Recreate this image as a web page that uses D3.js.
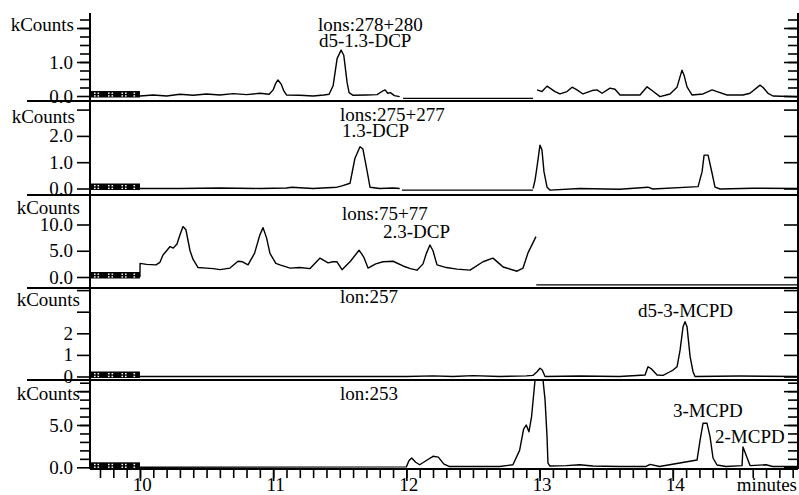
<!DOCTYPE html>
<html>
<head>
<meta charset="utf-8">
<script src="https://d3js.org/d3.v7.min.js"></script>
<style>
body { margin: 0; background: #fff; }
text { font-family: "Liberation Serif", "Times New Roman", serif; }
</style>
</head>
<body>
<svg></svg>
<script>

var width = 799,
    height = 495;

// retention time window (minutes) and x ticks
var timeDomain = [9.625, 14.94];
var xMajor = [10, 11, 12, 13, 14];
var xMinor = d3.range(9.7, 14.95, 0.1);

// ---- traces, [minutes, kCounts]; each panel split into its scan segments ----
var ions278 = [
  [[10.0,0.0],[10.1,0.03],[10.2,0.0],[10.3,0.05],[10.4,0.02],[10.5,0.06],[10.6,0.03],[10.7,0.07],
   [10.8,0.04],[10.9,0.08],[10.97,0.05],[11.0,0.18],[11.02,0.38],[11.036,0.47],[11.06,0.35],
   [11.08,0.15],[11.1,0.03],[11.2,0.02],[11.3,0.0],[11.38,0.03],[11.42,0.05],[11.45,0.3],
   [11.48,1.1],[11.51,1.35],[11.53,1.2],[11.555,0.4],[11.57,0.1],[11.6,0.02],[11.7,0.03],
   [11.78,0.04],[11.82,0.14],[11.84,0.18],[11.86,0.08],[11.88,0.1],[11.91,0.01],[11.95,-0.02]],
  [[11.975,-0.07],[12.951,-0.07]],
  [[12.981,0.18],[13.018,0.13],[13.056,0.29],[13.078,0.23],[13.116,0.13],[13.153,0.06],[13.206,0.13],
   [13.244,0.26],[13.281,0.18],[13.326,0.06],[13.394,0.16],[13.431,0.18],[13.469,0.08],[13.529,0.23],
   [13.566,0.2],[13.604,0.03],[13.754,0.03],[13.807,0.27],[13.844,0.16],[13.904,-0.02],[13.979,0.06],
   [14.032,0.26],[14.069,0.76],[14.084,0.62],[14.107,0.27],[14.144,0.03],[14.227,0.06],[14.295,0.18],
   [14.332,0.13],[14.407,0.03],[14.527,0.03],[14.58,0.08],[14.655,0.32],[14.678,0.25],[14.715,0.08],
   [14.752,0.0],[14.933,-0.02]]
];

var ions275 = [
  [[10.0,0.0],[10.3,0.0],[10.6,0.02],[10.9,0.0],[11.1,0.02],[11.141,0.05],[11.2,0.03],[11.3,0.0],
   [11.479,0.05],[11.517,0.1],[11.577,0.2],[11.614,1.15],[11.652,1.59],[11.674,1.5],[11.704,0.7],
   [11.727,0.05],[11.8,0.0],[11.9,0.02],[11.95,0.0]],
  [[11.967,-0.06],[12.951,-0.06]],
  [[12.951,0.0],[12.966,0.32],[12.981,0.83],[13.003,1.65],[13.018,1.46],[13.033,0.64],[13.056,0.05],
   [13.078,-0.06],[13.3,0.0],[13.6,-0.03],[13.814,0.05],[13.85,-0.02],[14.19,0.07],[14.22,0.64],
   [14.235,1.27],[14.265,1.27],[14.295,0.58],[14.317,0.05],[14.355,-0.02],[14.6,0.01],[14.94,0.0]]
];

var ions75 = [
  [[10.0,0.0],[10.001,2.6],[10.05,2.4],[10.12,2.3],[10.15,2.8],[10.173,4.2],[10.2,5.0],[10.226,5.8],
   [10.25,5.5],[10.278,6.3],[10.3,8.0],[10.323,9.6],[10.345,9.0],[10.376,5.0],[10.398,3.4],
   [10.436,1.8],[10.5,1.7],[10.55,1.6],[10.6,1.4],[10.676,1.7],[10.736,3.0],[10.77,2.9],[10.811,2.3],
   [10.86,4.5],[10.9,8.0],[10.924,9.4],[10.95,7.5],[10.976,4.5],[11.02,2.6],[11.051,2.3],[11.127,1.7],
   [11.2,1.8],[11.277,1.6],[11.352,3.6],[11.412,2.7],[11.45,2.9],[11.479,2.9],[11.517,1.4],
   [11.58,3.0],[11.645,5.1],[11.68,3.8],[11.712,1.7],[11.77,2.5],[11.825,2.9],[11.9,3.0],
   [11.975,2.1],[12.03,1.6],[12.08,1.3],[12.125,2.5],[12.15,4.5],[12.177,6.1],[12.2,5.0],[12.23,2.3],
   [12.3,1.8],[12.38,1.5],[12.478,1.3],[12.575,2.9],[12.65,3.6],[12.7,2.5],[12.726,1.9],[12.831,1.1],
   [12.876,1.7],[12.913,4.6],[12.973,7.7]],
  [[12.975,-1.5],[14.94,-1.5]]
];

var ion257 = [
  [[10.0,0.0],[12.0,0.0],[12.2,0.03],[12.35,0.0],[12.5,0.04],[12.7,0.0],[12.9,0.03],[12.95,0.05],
   [12.981,0.22],[13.003,0.38],[13.02,0.3],[13.041,0.0],[13.3,0.02],[13.6,0.0],[13.792,0.07],
   [13.814,0.45],[13.84,0.35],[13.882,0.07],[13.927,0.05],[13.979,0.22],[14.002,0.3],[14.032,0.45],
   [14.055,1.23],[14.077,2.3],[14.092,2.54],[14.107,2.3],[14.13,0.92],[14.152,0.22],[14.167,0.0],
   [14.5,0.02],[14.94,0.0]]
];

var ion253 = [
  [[10.0,0.0],[12.0,0.05],[12.02,0.8],[12.04,1.1],[12.07,0.6],[12.1,0.3],[12.15,0.8],[12.2,1.3],
   [12.24,1.2],[12.28,0.4],[12.32,0.1],[12.5,0.1],[12.7,0.1],[12.8,0.3],[12.85,2.0],[12.88,4.5],
   [12.9,5.0],[12.92,4.2],[12.94,6.0],[12.97,11.0],[13.01,12.0],[13.018,11.5],[13.041,8.0],
   [13.056,3.6],[13.063,0.5],[13.078,0.15],[13.2,0.2],[13.3,0.3],[13.4,0.15],[13.6,0.1],[13.8,0.1],
   [13.83,0.35],[13.9,0.1],[14.182,0.86],[14.205,3.2],[14.227,5.2],[14.257,5.2],[14.28,3.6],
   [14.302,1.1],[14.332,0.27],[14.4,0.1],[14.52,0.2],[14.527,2.4],[14.58,0.2],[14.7,0.3],
   [14.75,0.1],[14.94,0.1]]
];

// y tick values per panel
var yMajor1 = [0, 1, 2], yMinor1 = d3.range(0.25, 2.3, 0.25);
var yMajor2 = [0, 1, 2, 3];
var yMajor3 = [0, 5, 10];
var yMajor4 = [0, 1, 2, 3, 4];
var yMajor5 = [0, 5, 9], yMinor5 = d3.range(1, 10.5, 1);

var panels = [
  {top: 13,  bottom: 101, dom: [0, 1],  rng: [96, 62],      major: yMajor1, minor: yMinor1, fmt: d3.format(".1f"), unlabeled: [2],
   data: ions278, kx: 74, ky: 25,
   notes: [["lons:278+280", 318, 31], ["d5-1.3-DCP", 319, 47]]},
  {top: 101, bottom: 195, dom: [0, 1],  rng: [188.5, 162.2], major: yMajor2, minor: [], fmt: d3.format(".1f"), unlabeled: [3],
   data: ions275, kx: 75, ky: 117,
   notes: [["lons:275+277", 340, 121], ["1.3-DCP", 342, 137]]},
  {top: 195, bottom: 288, dom: [0, 10], rng: [277, 224.5],  major: yMajor3, minor: [], fmt: d3.format(".1f"), unlabeled: [],
   data: ions75, kx: 80, ky: 208,
   notes: [["lons:75+77", 342, 220], ["2.3-DCP", 383, 238]]},
  {top: 288, bottom: 380, dom: [0, 1],  rng: [376.5, 354.9], major: yMajor4, minor: [], fmt: d3.format("d"), unlabeled: [3, 4],
   data: ion257, kx: 80, ky: 300,
   notes: [["lon:257", 340, 303], ["d5-3-MCPD", 638, 317]]},
  {top: 380, bottom: 468, dom: [0, 5],  rng: [467.3, 425],   major: yMajor5, minor: yMinor5, fmt: d3.format(".1f"), unlabeled: [9],
   data: ion253, kx: 80, ky: 394,
   notes: [["lon:253", 340, 400], ["3-MCPD", 673, 417], ["2-MCPD", 715, 443]]}
];

var left = 90, right = 798, axisY = 469;

var svg = d3.select("svg")
    .attr("width", width)
    .attr("height", height);

svg.append("rect").attr("width", width).attr("height", height).attr("fill", "#fff");

var x = d3.scaleLinear()
    .domain(timeDomain)
    .range([left, right]);

var defs = svg.append("defs");

panels.forEach(function(p, i) {
  var y = d3.scaleLinear().domain(p.dom).range(p.rng);

  defs.append("clipPath").attr("id", "clip" + i)
    .append("rect")
      .attr("x", left).attr("y", p.top)
      .attr("width", right - left).attr("height", p.bottom - p.top);

  var line = d3.line()
      .x(function(d) { return x(d[0]); })
      .y(function(d) { return y(d[1]); });

  var g = svg.append("g");

  // traces
  g.append("g").attr("clip-path", "url(#clip" + i + ")")
    .selectAll("path")
    .data(p.data)
    .enter().append("path")
      .attr("d", line)
      .attr("fill", "none")
      .attr("stroke", "#000")
      .attr("stroke-width", 1.4)
      .attr("stroke-linejoin", "round");

  // solvent delay bar
  var y0 = y(0);
  g.append("rect")
    .attr("x", left).attr("y", y0 - 5)
    .attr("width", x(10) - left).attr("height", 6.5)
    .attr("fill", "#000");
  var dots = [4, 7.5, 18, 21.5, 31.5, 35, 43.5];
  [y0 - 3.5, y0 - 0.8].forEach(function(yy) {
    g.selectAll(null).data(dots).enter().append("rect")
      .attr("x", function(d) { return left + d; })
      .attr("y", yy)
      .attr("width", 1.6).attr("height", 1.4)
      .attr("fill", "#fff");
  });

  // left axis ticks
  var la = g.append("g").attr("transform", "translate(" + left + ",0)");
  if (p.minor.length) {
    la.append("g")
      .call(d3.axisLeft(y).tickValues(p.minor).tickSize(10).tickFormat(""))
      .call(function(s) { s.select(".domain").remove(); });
  }
  la.append("g")
    .call(d3.axisLeft(y).tickValues(p.major).tickSize(13).tickPadding(4)
      .tickFormat(function(d) { return p.unlabeled.indexOf(d) >= 0 ? "" : p.fmt(d); }))
    .call(function(s) { s.select(".domain").remove(); })
    .attr("font-size", 19)
    .attr("font-family", null);

  // right axis ticks (mirrored, pointing inward)
  var ra = g.append("g").attr("transform", "translate(" + right + ",0)");
  if (p.minor.length) {
    ra.append("g")
      .call(d3.axisRight(y).tickValues(p.minor).tickSize(-10).tickFormat(""))
      .call(function(s) { s.select(".domain").remove(); });
  }
  ra.append("g")
    .call(d3.axisRight(y).tickValues(p.major).tickSize(-14).tickFormat(""))
    .call(function(s) { s.select(".domain").remove(); });

  g.selectAll(".tick line").attr("stroke-width", 1.6);

  // y unit label
  g.append("text")
    .attr("x", p.kx).attr("y", p.ky).attr("dy", "0.32em")
    .attr("text-anchor", "end")
    .attr("font-size", 19)
    .text("kCounts");

  // ion / compound notes
  g.selectAll(null).data(p.notes).enter().append("text")
    .attr("x", function(d) { return d[1]; })
    .attr("y", function(d) { return d[2]; })
    .attr("font-size", 19)
    .text(function(d) { return d[0]; });

  // separator below the panel
  if (i < panels.length - 1) {
    svg.append("line")
      .attr("x1", 27).attr("x2", right)
      .attr("y1", p.bottom).attr("y2", p.bottom)
      .attr("stroke", "#000").attr("stroke-width", 2);
  }
});

// frame verticals
svg.append("line").attr("x1", left).attr("x2", left).attr("y1", 13).attr("y2", axisY)
  .attr("stroke", "#000").attr("stroke-width", 2);
svg.append("line").attr("x1", right).attr("x2", right).attr("y1", 13).attr("y2", axisY)
  .attr("stroke", "#000").attr("stroke-width", 2);

// time axis
var xa = svg.append("g").attr("transform", "translate(0," + axisY + ")");
xa.append("g")
  .call(d3.axisBottom(x).tickValues(xMinor).tickSize(9).tickFormat(""))
  .call(function(s) { s.select(".domain").remove(); });
xa.append("g")
  .call(d3.axisBottom(x).tickValues(xMajor).tickSize(12).tickFormat(d3.format("d")))
  .call(function(s) { s.select(".domain").remove(); })
  .attr("font-size", 19)
  .attr("font-family", null)
  .call(function(s) { s.selectAll("text").attr("y", 9).attr("dx", "0.1em"); });
xa.selectAll(".tick line").attr("stroke-width", 1.6);
xa.append("line").attr("x1", left).attr("x2", right).attr("stroke", "#000").attr("stroke-width", 2);

svg.append("text")
  .attr("x", 797).attr("y", 491)
  .attr("text-anchor", "end")
  .attr("font-size", 19)
  .text("minutes");

</script>
</body>
</html>
